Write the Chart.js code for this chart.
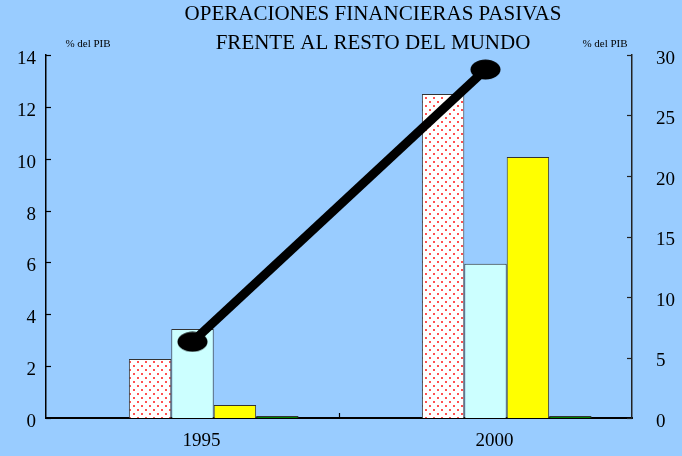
<!DOCTYPE html>
<html>
<head>
<meta charset="utf-8">
<script src="https://cdn.jsdelivr.net/npm/chart.js@4.4.1/dist/chart.umd.min.js"></script>
<style>
html,body{margin:0;padding:0;background:#99CCFF;}
#wrap{width:682px;height:456px;}
</style>
</head>
<body>
<div id="wrap"><canvas id="c" width="682" height="456"></canvas></div>
<script>
const categories = ['1995', '2000'];
const seriesBlank = [null, null];
const seriesRed = [2.28, 12.5];
const seriesCyan = [3.43, 5.95];
const seriesYellow = [0.5, 10.07];
const seriesGreen = [0.08, 0.08];
const seriesLine = [6.3, 28.8];
const titleLines = ['OPERACIONES FINANCIERAS PASIVAS', 'FRENTE AL RESTO DEL MUNDO'];
const unitLabel = '% del PIB';

const SERIF = '"Liberation Serif", "Times New Roman", serif';

// dotted pattern
const pc = document.createElement('canvas');
pc.width = 8; pc.height = 8;
const px = pc.getContext('2d');
px.fillStyle = '#ffffff'; px.fillRect(0,0,8,8);
px.fillStyle = '#ff5050';
px.fillRect(1,1,2,2);
px.fillRect(5,5,2,2);
const dotPattern = px.createPattern(pc, 'repeat');

// ellipse point
const ec = document.createElement('canvas');
ec.width = 31; ec.height = 21;
const ex = ec.getContext('2d');
ex.fillStyle = '#000';
ex.beginPath(); ex.ellipse(15.5,10.5,15,10,0,0,Math.PI*2); ex.fill();

const bgPlugin = {
  id: 'bg',
  beforeDraw(chart){
    const c = chart.ctx;
    c.save(); c.fillStyle = '#99CCFF'; c.fillRect(0,0,chart.width,chart.height); c.restore();
  }
};

const decoPlugin = {
  id: 'deco',
  afterDraw(chart){
    const c = chart.ctx, a = chart.chartArea;
    c.save();
    c.strokeStyle = '#000'; c.lineWidth = 1.2;
    const y = chart.scales.y, y2 = chart.scales.y2, x = chart.scales.x;
    y.ticks.forEach(t => {
      const p = Math.round(y.getPixelForValue(t.value)) + 0.5;
      c.beginPath(); c.moveTo(a.left, p); c.lineTo(a.left + 5, p); c.stroke();
    });
    c.strokeStyle = '#222';
    y2.ticks.forEach(t => {
      const p = Math.round(y2.getPixelForValue(t.value)) + 0.5;
      c.beginPath(); c.moveTo(a.right - 5, p); c.lineTo(a.right, p); c.stroke();
    });
    c.strokeStyle = '#000';
    for (let i = 0; i < categories.length - 1; i++) {
      const m = Math.round((x.getPixelForValue(i) + x.getPixelForValue(i+1)) / 2) + 0.5;
      c.beginPath(); c.moveTo(m, a.bottom); c.lineTo(m, a.bottom - 5); c.stroke();
    }
    // titles
    c.fillStyle = '#000';
    c.textAlign = 'center'; c.textBaseline = 'middle';
    c.font = '21px ' + SERIF;
    const cx = (a.left + a.right) / 2 + 34;
    c.fillText(titleLines[0], cx, 14);
    c.fillText(titleLines[1], cx, 43);
    c.font = '11px ' + SERIF;
    c.fillText(unitLabel, a.left + 42, 44);
    c.fillText(unitLabel, a.right - 27, 44);
    c.restore();
  }
};

const barBase = { borderColor: '#333', borderWidth: 1, order: 2, yAxisID: 'y' };

new Chart(document.getElementById('c'), {
  type: 'bar',
  data: {
    labels: categories,
    datasets: [
      Object.assign({ label: 'blank', data: seriesBlank, backgroundColor: 'rgba(0,0,0,0)' }, barBase),
      Object.assign({ label: 'A', data: seriesRed, backgroundColor: dotPattern }, barBase),
      Object.assign({ label: 'B', data: seriesCyan, backgroundColor: '#CCFFFF' }, barBase),
      Object.assign({ label: 'C', data: seriesYellow, backgroundColor: '#FFFF00' }, barBase),
      Object.assign({ label: 'D', data: seriesGreen, backgroundColor: '#008000' }, barBase),
      { type: 'line', label: 'L', data: seriesLine, yAxisID: 'y2', order: 0,
        borderColor: '#000', borderWidth: 9, pointStyle: ec, pointRadius: 15,
        pointBackgroundColor: '#000', pointBorderColor: '#000', tension: 0, fill: false }
    ]
  },
  options: {
    responsive: false,
    animation: false,
    devicePixelRatio: 1,
    layout: { padding: { top: 55, left: 0, right: 0, bottom: 0 } },
    plugins: { legend: { display: false }, tooltip: { enabled: false }, title: { display: false } },
    datasets: { bar: { categoryPercentage: 0.724, barPercentage: 1.0 } },
    scales: {
      x: {
        grid: { display: false, drawTicks: false },
        border: { display: true, color: '#000', width: 2 },
        ticks: { color: '#000', font: { family: SERIF, size: 19 }, padding: 12, labelOffset: 9 },
        afterFit(s){ s.height = 38; }
      },
      y: {
        position: 'left', min: 0, max: 14,
        grid: { display: false, drawTicks: false },
        border: { display: true, color: '#000', width: 1.5 },
        ticks: { stepSize: 2, color: '#000', font: { family: SERIF, size: 19 }, padding: 10, labelOffset: 4 },
        afterFit(s){ s.width = 46; }
      },
      y2: {
        position: 'right', min: 0, max: 30,
        grid: { display: false, drawTicks: false },
        border: { display: true, color: '#222', width: 1.5 },
        ticks: { stepSize: 5, color: '#000', font: { family: SERIF, size: 19 }, padding: 24, labelOffset: 4 },
        afterFit(s){ s.width = 50; }
      }
    }
  },
  plugins: [bgPlugin, decoPlugin]
});
</script>
</body>
</html>
